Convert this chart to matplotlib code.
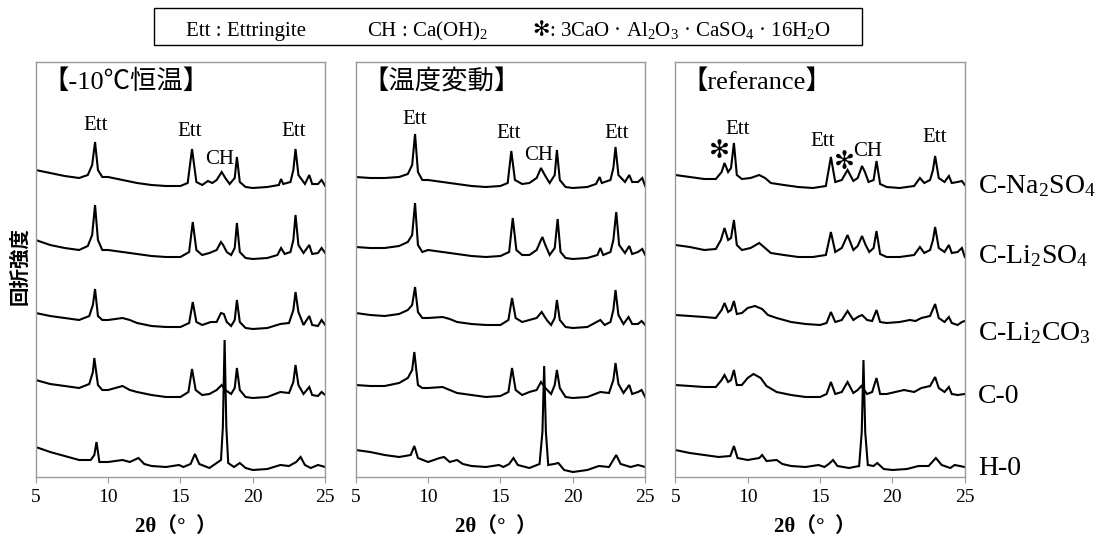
import matplotlib
matplotlib.use('Agg')
import matplotlib.pyplot as plt
from matplotlib.patches import Rectangle

plt.rcParams['mathtext.fontset'] = 'custom'
plt.rcParams['mathtext.rm'] = 'Liberation Serif'
plt.rcParams['mathtext.it'] = 'Liberation Serif:italic'
plt.rcParams['mathtext.bf'] = 'Liberation Serif:bold'

# ---------------- data ----------------
SAMPLES = ['C-Na$_2$SO$_4$', 'C-Li$_2$SO$_4$', 'C-Li$_2$CO$_3$', 'C-0', 'H-0']
OFFSETS = [280, 210, 140, 70, 0]
PANEL_TITLES = ['【-10℃恒温】', '【温度変動】', '【referance】']
XTICKS = [5, 10, 15, 20, 25]

# panel 1 : -10C constant (2theta, intensity)
P1_NA2SO4 = [(5,27),(6,24),(7,21),(8,19),(8.6,22),(8.9,32),(9.1,55),(9.3,27),(9.6,20),(10,20),(11,17),(12,14),(13,12),(14,11),(15,11),(15.5,14),(15.8,48),(16.1,15),(16.5,12),(16.9,16),(17.2,14),(17.5,17),(17.85,25),(18.1,19),(18.4,13),(18.75,19),(18.9,40),(19.1,15),(19.5,10),(20,9),(21,10),(21.8,12),(21.95,18),(22.1,13),(22.6,15),(22.8,27),(22.95,48),(23.15,22),(23.6,13),(23.9,22),(24.1,13),(24.5,13),(24.75,17),(25,11)]
P1_LI2SO4 = [(5,27),(6,22),(7,19),(8,17),(8.6,21),(8.9,32),(9.1,62),(9.3,27),(9.6,17),(10,17),(11,15),(12,13),(13,11),(14,10),(15,10),(15.6,15),(15.85,45),(16.1,17),(16.5,12),(17,14),(17.5,17),(17.8,25),(17.95,22),(18.2,15),(18.5,12),(18.75,19),(18.9,44),(19.1,15),(19.5,9),(20,8),(21,9),(21.7,12),(21.95,19),(22.2,13),(22.6,15),(22.8,27),(22.95,52),(23.15,22),(23.5,14),(23.9,22),(24.1,13),(24.5,14),(24.75,19),(25,14)]
P1_LI2CO3 = [(5,24),(6,21),(7,19),(8,17),(8.7,21),(8.95,32),(9.1,48),(9.3,21),(9.6,17),(10,17),(11,19),(11.5,17),(12,14),(13,11),(14,10),(15,10),(15.6,14),(15.85,35),(16.1,15),(16.5,12),(17.1,15),(17.5,15),(17.8,24),(18.0,23),(18.2,15),(18.5,11),(18.75,17),(18.9,37),(19.1,15),(19.5,9),(20,8),(21,9),(21.9,13),(22.5,14),(22.8,27),(22.95,45),(23.15,25),(23.5,12),(23.9,21),(24.1,12),(24.5,11),(24.75,17),(25,12)]
P1_C0 = [(5,27),(6,23),(7,21),(8,19),(8.7,23),(8.95,35),(9.05,49),(9.3,22),(9.6,17),(10,17),(11,21),(11.5,17),(12,15),(13,12),(14,10),(15,10),(15.55,15),(15.8,38),(16.05,17),(16.5,12),(17,13),(17.5,17),(17.85,22),(18.1,17),(18.5,13),(18.75,19),(18.9,39),(19.1,17),(19.5,10),(20,9),(21,10),(21.9,15),(22.5,14),(22.8,25),(22.95,42),(23.15,22),(23.5,13),(23.9,20),(24.1,12),(24.5,11),(24.75,15),(25,12)]
P1_H0 = [(5,30),(6,25),(7,21),(8,17),(8.8,17),(9.05,22),(9.2,35),(9.4,15),(10,15),(11,17),(11.5,15),(12.1,19),(12.5,13),(13,11),(14,10),(14.9,12),(15.2,10),(15.7,13),(16.0,23),(16.3,13),(17,9),(17.8,17),(17.93,50),(18.05,137),(18.17,50),(18.3,14),(18.7,10),(19.1,14),(19.5,9),(20,7),(21,8),(21.9,12),(22.5,11),(23.0,15),(23.3,20),(23.6,12),(24,9),(24.5,12),(25,10)]

# panel 2 : temperature fluctuation
P2_NA2SO4 = [(5,20),(6,19),(7,19),(8,20),(8.6,23),(8.9,32),(9.1,63),(9.3,25),(9.6,17),(10,17),(11,15),(12,13),(13,11),(14,10),(15,11),(15.5,14),(15.75,46),(16.0,17),(16.5,13),(17.0,14),(17.5,19),(17.8,29),(18.1,21),(18.4,14),(18.75,22),(18.9,47),(19.1,17),(19.5,10),(20,9),(21,10),(21.6,13),(21.85,20),(22.0,14),(22.6,17),(22.8,29),(22.95,50),(23.15,22),(23.6,15),(23.9,22),(24.1,15),(24.5,15),(24.8,19),(25,11)]
P2_LI2SO4 = [(5,20),(6,19),(7,19),(8,21),(8.6,25),(8.9,32),(9.1,64),(9.3,22),(9.6,15),(10,17),(11,15),(12,13),(13,11),(14,10),(15,11),(15.6,15),(15.85,49),(16.1,17),(16.5,12),(17,12),(17.5,17),(17.8,27),(17.9,30),(18.1,22),(18.4,12),(18.75,19),(18.95,48),(19.15,15),(19.5,9),(20,8),(21,9),(21.7,12),(21.9,19),(22.1,12),(22.6,15),(22.8,27),(23.0,55),(23.2,22),(23.6,14),(23.9,21),(24.1,13),(24.5,15),(24.8,18),(25,12)]
P2_LI2CO3 = [(5,24),(6,22),(7,21),(8,23),(8.6,27),(8.9,32),(9.1,50),(9.3,25),(9.6,19),(10,19),(11,20),(11.5,18),(12,15),(13,13),(14,12),(15,12),(15.55,17),(15.8,39),(16.05,19),(16.5,15),(17,17),(17.5,19),(17.85,25),(18.2,17),(18.5,12),(18.75,19),(18.9,37),(19.1,17),(19.5,10),(20,9),(21,10),(21.9,17),(22.2,12),(22.6,15),(22.8,27),(22.95,47),(23.15,22),(23.5,13),(23.85,20),(24.1,13),(24.5,13),(24.75,16),(25,12)]
P2_C0 = [(5,22),(6,21),(7,21),(8,24),(8.6,29),(8.9,37),(9.05,55),(9.3,22),(9.6,19),(10,19),(11,20),(11.5,17),(12,14),(13,12),(14,10),(15,11),(15.55,15),(15.8,39),(16.05,17),(16.5,12),(17,15),(17.5,17),(17.8,25),(18.1,19),(18.5,13),(18.75,22),(18.9,37),(19.1,19),(19.5,10),(20,9),(21,10),(21.9,15),(22.5,14),(22.8,27),(22.95,44),(23.15,23),(23.5,14),(23.9,22),(24.1,13),(24.5,15),(24.75,17),(25,10)]
P2_H0 = [(5,27),(6,25),(7,22),(8,20),(8.8,22),(9.05,31),(9.3,19),(10,15),(10.8,19),(11.1,20),(11.5,15),(12.0,17),(12.4,13),(13,11),(14,10),(14.9,12),(15.2,10),(15.6,13),(15.9,19),(16.2,12),(17,9),(17.7,13),(17.9,45),(18.02,111),(18.14,45),(18.3,12),(18.7,13),(19,14),(19.4,7),(20,5),(21,7),(21.8,11),(22.5,10),(23.0,22),(23.3,13),(24,10),(24.5,12),(25,10)]

# panel 3 : reference
P3_NA2SO4 = [(5,22),(6,20),(7,18),(7.8,18),(8.2,25),(8.4,34),(8.65,25),(8.85,29),(9.05,54),(9.25,22),(9.6,18),(10.2,19),(10.8,22),(11.2,19),(11.6,14),(12.5,12),(13.5,10),(14.5,9),(15.4,11),(15.75,40),(16.05,15),(16.5,17),(16.9,27),(17.3,16),(17.6,19),(17.9,31),(18.1,25),(18.35,15),(18.7,17),(18.9,36),(19.15,13),(19.6,10),(20.5,9),(21.5,11),(21.9,19),(22.2,14),(22.6,17),(22.8,27),(22.95,41),(23.2,19),(23.6,15),(23.9,21),(24.1,14),(24.5,15),(24.8,16),(25,12)]
P3_LI2SO4 = [(5,22),(6,20),(7,17),(7.8,18),(8.15,27),(8.4,39),(8.65,27),(8.85,29),(9.05,47),(9.25,22),(9.6,17),(10.2,19),(10.8,24),(11.2,19),(11.6,14),(12.5,12),(13.5,10),(14.5,10),(15.4,12),(15.75,35),(16.05,15),(16.5,19),(16.9,32),(17.3,17),(17.6,21),(17.9,31),(18.15,22),(18.4,15),(18.7,19),(18.9,36),(19.15,13),(19.6,10),(20.5,10),(21.5,12),(21.9,20),(22.2,14),(22.6,17),(22.8,27),(22.95,40),(23.2,19),(23.6,15),(23.9,22),(24.1,14),(24.5,15),(24.8,19),(25,10)]
P3_LI2CO3 = [(5,22),(6,21),(7,20),(7.8,19),(8.2,27),(8.4,34),(8.65,25),(8.85,27),(9.05,36),(9.25,23),(9.6,24),(10.0,29),(10.5,31),(11.0,28),(11.4,22),(12,19),(13,15),(14,13),(15,12),(15.45,14),(15.75,25),(16.05,15),(16.5,17),(16.9,26),(17.3,17),(17.6,20),(17.9,22),(18.25,17),(18.6,16),(18.9,27),(19.15,15),(19.6,14),(20.5,15),(21.2,17),(21.6,16),(22.0,19),(22.6,21),(22.95,33),(23.2,19),(23.6,15),(23.9,20),(24.1,14),(24.5,12),(24.8,15),(25,16)]
P3_C0 = [(5,22),(6,21),(7,20),(7.8,20),(8.2,27),(8.4,32),(8.65,25),(8.85,27),(9.05,37),(9.25,22),(9.6,22),(10.0,29),(10.4,33),(10.9,29),(11.3,21),(12,15),(13,12),(14,10),(15,10),(15.45,13),(15.75,25),(16.05,13),(16.5,15),(16.9,25),(17.3,14),(17.6,17),(17.85,21),(18.25,13),(18.6,15),(18.9,29),(19.15,13),(19.6,13),(20.8,17),(21.5,15),(22.0,19),(22.6,21),(22.95,30),(23.2,19),(23.6,15),(23.9,20),(24.1,13),(24.5,12),(25,13)]
P3_H0 = [(5,27),(6,24),(7,22),(8,20),(8.8,21),(9.05,31),(9.3,19),(10,17),(10.8,19),(11.0,22),(11.3,16),(12.0,17),(12.4,13),(13,11),(14,10),(14.9,12),(15.3,10),(15.6,13),(15.9,17),(16.2,11),(17,9),(17.7,11),(17.88,45),(18.0,117),(18.12,45),(18.3,12),(18.7,11),(18.95,14),(19.4,8),(20,7),(21,8),(21.8,11),(22.5,11),(23.0,19),(23.4,12),(24,9),(24.3,12),(25,10)]

PANEL_TRACES = [
    [P1_NA2SO4, P1_LI2SO4, P1_LI2CO3, P1_C0, P1_H0],
    [P2_NA2SO4, P2_LI2SO4, P2_LI2CO3, P2_C0, P2_H0],
    [P3_NA2SO4, P3_LI2SO4, P3_LI2CO3, P3_C0, P3_H0],
]

# peak annotations: (label, 2theta, height)
P1_LABELS = [('Ett', 9.15, 352), ('Ett', 15.63, 345), ('CH', 17.7, 318), ('Ett', 22.85, 345)]
P2_LABELS = [('Ett', 9.06, 358), ('Ett', 15.59, 344), ('CH', 17.64, 321), ('Ett', 23.06, 343)]
P3_LABELS = [('Ett', 9.31, 347), ('Ett', 15.16, 335), ('CH', 18.28, 325), ('Ett', 22.89, 340)]
P3_STARS = [(8.02, 326), (16.71, 315)]
LABEL_BASELINES = [284, 214, 137, 74, 2]

# ---------------- figure ----------------
W, H = 1100, 542
fig = plt.figure(figsize=(W / 100, H / 100), dpi=100)

SERIF = 'Liberation Serif'
MIX = ['Liberation Serif', 'Noto Sans CJK JP']
GRAY = '#9a9a9a'

ax_lefts = [35.7, 355.7, 675.3]
ax_w = 289.5
ax_top, ax_bot = 62, 477
label_sets = [P1_LABELS, P2_LABELS, P3_LABELS]

axes = []
for i, left in enumerate(ax_lefts):
    ax = fig.add_axes([left / W, (H - ax_bot) / H, ax_w / W, (ax_bot - ax_top) / H])
    axes.append(ax)
    for trace, off in zip(PANEL_TRACES[i], OFFSETS):
        xs = [p[0] for p in trace]
        ys = [p[1] + off for p in trace]
        ax.plot(xs, ys, color='black', lw=1.5, solid_joinstyle='miter')
    ax.set_xlim(5, 25)
    ax.set_ylim(0, ax_bot - ax_top)
    ax.set_xticks(XTICKS)
    ax.set_yticks([])
    for s in ax.spines.values():
        s.set_color(GRAY)
        s.set_linewidth(1.0)
    ax.tick_params(axis='x', direction='out', length=4, color=GRAY, labelsize=14, pad=5)
    for t in ax.get_xticklabels():
        t.set_fontfamily(SERIF)
    ax.text(5.45, 395, PANEL_TITLES[i], va='center', ha='left', fontsize=19, family=MIX)
    for lab, x, y in label_sets[i]:
        ax.text(x, y, lab, ha='center', va='center', fontsize=15, family=SERIF)
    fig.text((left + ax_w / 2 - 5) / W, 1 - 527 / H, '2θ（°  ）', ha='center', va='center',
             fontsize=15, fontweight='bold', family=MIX)

for x, y in P3_STARS:
    axes[2].text(x, y, '✻', ha='center', va='center', fontsize=18, fontweight='bold',
                 family='DejaVu Sans')

for lab, yb in zip(SAMPLES, LABEL_BASELINES):
    axes[2].text(25.9, yb, lab, ha='left', va='baseline', fontsize=20, family=SERIF, clip_on=False)

fig.text(20 / W, 1 - 266 / H, '回折強度', rotation=90, ha='center', va='center',
         fontsize=14, fontweight='bold', family='Noto Sans CJK JP')

# legend box
fig.add_artist(Rectangle((154 / W, 1 - 45 / H), (862 - 154) / W, 37 / H,
                         transform=fig.transFigure, fill=False, edgecolor='black', lw=1.0))
yb = 1 - 36 / H
fig.text(186 / W, yb, 'Ett : Ettringite', va='baseline', fontsize=15, family=SERIF)
fig.text(367 / W, yb, 'CH : Ca(OH)$_2$', va='baseline', fontsize=15, family=SERIF)
fig.text(532 / W, yb, '✻', va='baseline', fontsize=15, fontweight='bold', family='DejaVu Sans')
fig.text(549 / W, yb, ': 3CaO · Al$_2$O$_3$ · CaSO$_4$ · 16H$_2$O', va='baseline', fontsize=15, family=SERIF)

fig.savefig('out.png', dpi=100)
